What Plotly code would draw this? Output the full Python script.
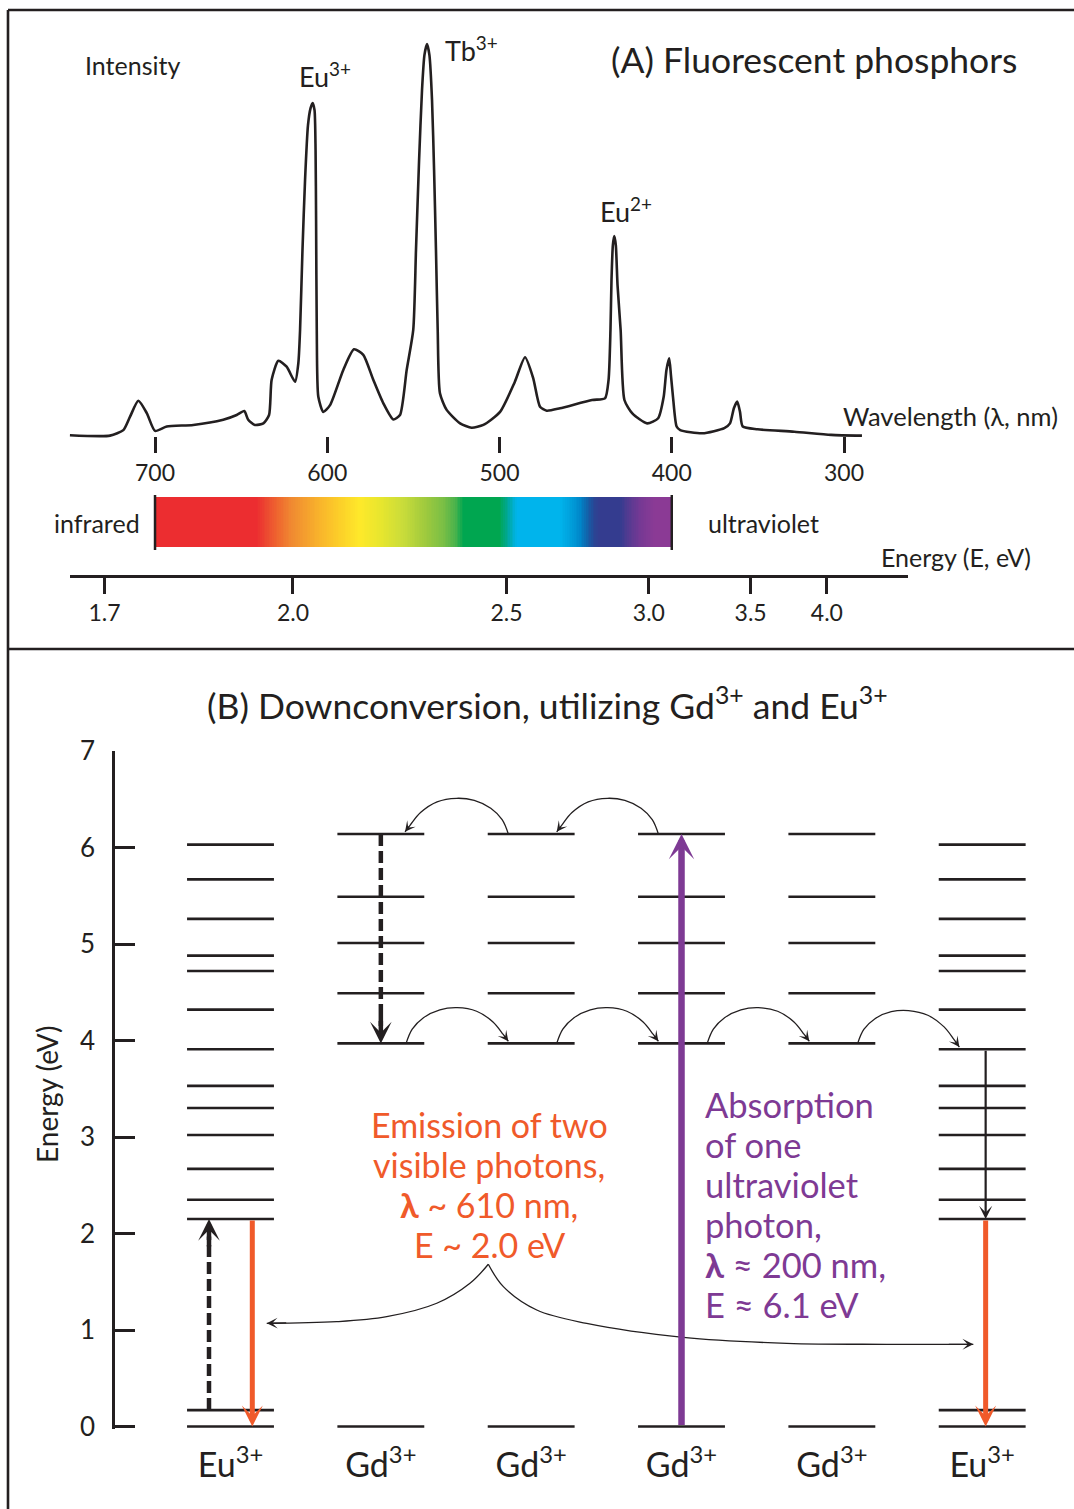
import numpy as np
import plotly.graph_objects as go

INK = "#231F20"
ORANGE = "#F05A2A"
PURPLE = "#7E3A94"
FONT = "Lato"
W, H = 1074, 1509

# ---------------- Panel A: emission spectrum of fluorescent phosphors ----------------
wavelength_nm = [749.4, 726.1, 718.4, 714.5, 709.7, 704.8, 700.0, 693.2, 677.8, 660.4,
                 652.6, 648.2, 645.9, 642.0, 637.1, 633.8, 632.3, 628.4, 623.6, 618.7,
                 616.8, 615.8, 614.4, 612.9, 611.2, 609.7, 608.5, 607.4, 606.8, 606.5,
                 606.1, 605.2, 602.3, 598.4, 590.7, 584.5, 579.1, 573.3, 567.5, 561.7,
                 557.8, 553.9, 550.1, 548.5, 546.7, 545.0, 543.6, 542.1, 540.7, 539.2,
                 538.0, 536.9, 535.9, 534.6, 530.7, 522.9, 516.2, 509.4, 499.7, 491.2,
                 485.2, 480.5, 476.5, 472.6, 464.9, 446.3, 438.8, 436.7, 435.6, 435.0,
                 434.2, 433.4, 432.5, 431.5, 429.7, 427.5, 422.9, 414.3, 407.9, 404.7,
                 403.1, 401.5, 400.5, 399.3, 397.2, 395.1, 382.2, 369.5, 366.2, 363.9,
                 362.0, 360.4, 358.8, 350.2, 328.9, 307.5, 289.6]
intensity = [1.2, 1.1, 2.5, 5.9, 9.9, 6.8, 2.3, 3.4, 3.8, 5.1,
             6.3, 7.3, 5.1, 3.8, 4.2, 6.3, 15.2, 20.0, 18.5, 14.7,
             19.4, 27.8, 48.0, 65.7, 79.5, 83.8, 85.1, 83.3, 73.2, 55.6,
             27.8, 10.9, 7.1, 8.8, 17.7, 22.9, 21.5, 15.2, 9.3, 5.2,
             6.3, 17.7, 27.8, 48.0, 70.7, 88.4, 97.2, 100.0, 97.2, 85.9,
             68.2, 48.0, 27.8, 11.8, 7.6, 4.2, 3.1, 3.8, 7.1, 14.6,
             20.9, 15.7, 8.4, 7.4, 8.0, 10.1, 10.5, 15.2, 27.8, 40.4,
             49.2, 51.5, 49.2, 39.1, 27.8, 10.1, 6.7, 4.2, 5.5, 10.9,
             17.7, 20.6, 16.4, 10.9, 3.4, 2.5, 1.7, 3.0, 4.2, 8.1,
             9.7, 7.1, 3.4, 2.7, 2.1, 1.3, 1.1]
wavelength_ticks = [700, 600, 500, 400, 300]
energy_ticks_eV = [1.7, 2.0, 2.5, 3.0, 3.5, 4.0]
HC_EV_NM = 1239.84

visible_nm = [400, 700]
spec_nm = [400, 410, 419, 425, 430, 442, 445, 449, 453, 459, 465, 490, 495, 500,
           521, 526, 533, 542, 556, 569, 581, 593, 604, 620, 628, 635, 641, 700]
spec_colors = ["#8B3A95", "#8B3A95", "#743994", "#553A91", "#343C8F", "#343C8F", "#2A4594",
               "#1360A8", "#0085C8", "#00A0DC", "#00B4EC", "#00B4EC", "#00A8A0", "#00A650",
               "#00A650", "#4DB34B", "#7BBF45", "#9BC83E", "#C9DC3A", "#E7E62E", "#FEE92A",
               "#FCCF29", "#F9B52B", "#F08C31", "#EF6A2F", "#EC4A30", "#EC2D30", "#EC2D30"]

# ---------------- Panel B: downconversion energy-level diagram ----------------
columns = ["Eu", "Gd", "Gd", "Gd", "Gd", "Eu"]
column_labels = [c + "<sup>3+</sup>" for c in columns]
eu_levels_eV = [0.0, 0.17, 2.15, 2.35, 2.67, 3.02, 3.30, 3.53, 3.91, 4.32, 4.72, 4.88,
                5.26, 5.67, 6.03]
gd_levels_eV = [0.0, 3.97, 4.49, 5.01, 5.49, 6.14]
energy_axis_ticks = [0, 1, 2, 3, 4, 5, 6, 7]

# energy-transfer hops between neighbouring ions: (x start, x end, E start, E end)
transfers = [(1.848, 1.161, 6.14, 6.14), (2.846, 2.170, 6.14, 6.14),
             (1.168, 1.848, 3.97, 3.97), (2.170, 2.846, 3.97, 3.97),
             (3.171, 3.850, 3.97, 3.97), (4.172, 4.848, 3.97, 3.91)]
hop_t = [0, 0.06, 0.17, 0.33, 0.5, 0.69, 0.85, 0.95, 1.0]
hop_h = [0, 0.40, 0.72, 0.94, 1.0, 0.90, 0.60, 0.25, 0.06]
HOP_HEIGHT = 0.37

# pointer curves from the emission label to the two Eu emissions
pointer_left_x = [1.715, 1.593, 1.372, 1.039, 0.706, 0.241]
pointer_left_E = [1.681, 1.484, 1.277, 1.138, 1.086, 1.069]
pointer_right_x = [1.715, 1.815, 2.037, 2.369, 3.012, 3.700, 4.365, 4.941]
pointer_right_E = [1.681, 1.449, 1.207, 1.069, 0.924, 0.862, 0.852, 0.852]

emission_lines = ["Emission of two", "visible photons,", "<b>λ</b> ~ 610 nm,", "E ~ 2.0 eV"]
absorption_lines = ["Absorption", "of one", "ultraviolet", "photon,",
                    "<b>λ</b> ≈ 200 nm,", "E ≈ 6.1 eV"]

LEVEL_HALF = 0.289
E_PAD = 0.03  # small headroom below 0 eV so the ground-state lines are not clipped


def pxx(x):
    return x / W


def pxy(y):
    return 1 - y / H


fig = go.Figure()
annotations = []

# spectrum
fig.add_trace(go.Scatter(x=wavelength_nm, y=intensity, mode="lines", xaxis="x", yaxis="y",
                         line=dict(color=INK, width=2.6, shape="spline", smoothing=0.6),
                         hoverinfo="skip", showlegend=False))

# visible colour bar
edges = np.linspace(visible_nm[0], visible_nm[1], 301)
mids = (edges[:-1] + edges[1:]) / 2
cscale = [[(n - visible_nm[0]) / (visible_nm[1] - visible_nm[0]), c]
          for n, c in zip(spec_nm, spec_colors)]
fig.add_trace(go.Heatmap(x=edges, y=[28, 78], z=[mids], colorscale=cscale,
                         zmin=visible_nm[0], zmax=visible_nm[1], showscale=False,
                         xaxis="x3", yaxis="y3", hoverinfo="skip"))
fig.add_trace(go.Scatter(x=[visible_nm[1], visible_nm[1], None, visible_nm[0], visible_nm[0]],
                         y=[25, 80, None, 25, 80], mode="lines", xaxis="x3", yaxis="y3",
                         line=dict(color=INK, width=2.5), hoverinfo="skip", showlegend=False))

# energy levels
lx, ly = [], []
for i, ion in enumerate(columns):
    for E in (eu_levels_eV if ion == "Eu" else gd_levels_eV):
        lx += [i - LEVEL_HALF, i + LEVEL_HALF, None]
        ly += [E, E, None]
fig.add_trace(go.Scatter(x=lx, y=ly, mode="lines", xaxis="x2", yaxis="y2",
                         line=dict(color=INK, width=2.6), hoverinfo="skip", showlegend=False))


def arrow(x0, y0, x1, y1, color, width, size):
    annotations.append(dict(x=x1, y=y1, ax=x0, ay=y0, xref="x2", yref="y2", axref="x2",
                            ayref="y2", showarrow=True, arrowhead=3, arrowsize=size,
                            arrowwidth=width, arrowcolor=color, text="", standoff=0,
                            startstandoff=0))


def dashed_arrow(x, E0, E1):
    back = 0.3 if E1 > E0 else -0.3
    fig.add_trace(go.Scatter(x=[x, x], y=[E0, E1 - back * 0.6], mode="lines", xaxis="x2",
                             yaxis="y2", line=dict(color=INK, width=4.5, dash="12px,5px"),
                             hoverinfo="skip", showlegend=False))
    arrow(x, E1 - back, x, E1, INK, 4.5, 0.8)


# Gd relaxation (dashed), Eu feeding (dashed)
dashed_arrow(1.0, 6.14, 3.97)
dashed_arrow(-0.143, 0.17, 2.15)
# absorption of UV photon
arrow(3.0, 0.0, 3.0, 6.14, PURPLE, 6.5, 0.65)
# Eu emissions
arrow(0.145, 2.15, 0.145, 0.0, ORANGE, 5, 0.7)
arrow(5.023, 2.15, 5.023, 0.0, ORANGE, 5, 0.7)
# Eu internal relaxation
arrow(5.023, 3.91, 5.023, 2.15, INK, 2.2, 1.0)

# energy-transfer hops
for xs, xe, Es, Ee in transfers:
    hx = [xs + (xe - xs) * t for t in hop_t]
    hy = [Es + (Ee - Es) * t + HOP_HEIGHT * h for t, h in zip(hop_t, hop_h)]
    fig.add_trace(go.Scatter(x=hx, y=hy, mode="lines", xaxis="x2", yaxis="y2",
                             line=dict(color=INK, width=1.3, shape="spline"),
                             hoverinfo="skip", showlegend=False))
    arrow(hx[-2], hy[-2], hx[-1], hy[-1], INK, 1.3, 1.35)

# pointers from emission label
for px_, pe_ in ((pointer_left_x, pointer_left_E), (pointer_right_x, pointer_right_E)):
    fig.add_trace(go.Scatter(x=px_, y=pe_, mode="lines", xaxis="x2", yaxis="y2",
                             line=dict(color=INK, width=1.3, shape="spline"),
                             hoverinfo="skip", showlegend=False))
    arrow(px_[-2] + (px_[-1] - px_[-2]) * 0.7, pe_[-2] + (pe_[-1] - pe_[-2]) * 0.7,
          px_[-1], pe_[-1], INK, 1.3, 1.4)


def text(x, y, s, size, color=INK, xanchor="left", yanchor="middle", angle=0):
    annotations.append(dict(x=pxx(x), y=pxy(y), xref="paper", yref="paper", text=s,
                            showarrow=False, xanchor=xanchor, yanchor=yanchor,
                            textangle=angle,
                            font=dict(family=FONT, size=size, color=color)))


# Panel A texts
text(83, 65, "Intensity", 25)
text(609, 60, "(A) Fluorescent phosphors", 35.5)
text(297, 75, "Eu<sup>3+</sup>", 27)
text(443, 49, "Tb<sup>3+</sup>", 27)
text(598, 210, "Eu<sup>2+</sup>", 27)
text(841, 416, "Wavelength (λ, nm)", 25.5)
text(142, 523, "infrared", 25, xanchor="right")
text(706, 523, "ultraviolet", 25)
text(879, 557, "Energy (E, eV)", 25)

# Panel B texts
text(547, 703, "(B) Downconversion, utilizing Gd<sup>3+</sup> and Eu<sup>3+</sup>", 35.5,
     xanchor="center")
text(47, 1095, "Energy (eV)", 28, xanchor="center", angle=-90)
for k, s in enumerate(emission_lines):
    text(489, 1124 + 40 * k, s, 34, ORANGE, xanchor="center")
for k, s in enumerate(absorption_lines):
    text(703, 1104 + 40 * k, s, 34.5, PURPLE)

frame = dict(type="line", xref="paper", yref="paper", line=dict(color=INK, width=2.6))
shapes = [dict(frame, x0=pxx(8), x1=pxx(8), y0=pxy(10), y1=0),
          dict(frame, x0=pxx(8), x1=1, y0=pxy(10), y1=pxy(10)),
          dict(frame, x0=pxx(8), x1=1, y0=pxy(649), y1=pxy(649))]

E_PX = (1426.5 - 751) / 7  # pixels per eV on the panel-B axis
axis_font = dict(family=FONT, size=23, color=INK)
common = dict(showgrid=False, zeroline=False, automargin=False, fixedrange=True)
fig.update_layout(
    template="none",
    width=W, height=H, autosize=False, margin=dict(l=0, r=0, t=0, b=0, pad=0),
    paper_bgcolor="white", plot_bgcolor="rgba(0,0,0,0)", showlegend=False,
    font=dict(family=FONT, color=INK),
    xaxis=dict(common, domain=[0, 1], range=[790, 166.5], anchor="free", position=pxy(436),
               showline=False, ticks="outside",
               ticklen=16, tickwidth=2.5, tickcolor=INK, tickvals=wavelength_ticks,
               tickfont=axis_font),
    yaxis=dict(common, domain=[pxy(470), pxy(40)], range=[-7.576, 101.01], anchor="free",
               position=0, visible=False),
    xaxis2=dict(common, domain=[0, 1], range=[-1.5332, 5.6107], anchor="y2",
                showline=False, ticks="", tickvals=list(range(len(columns))),
                ticktext=column_labels, tickfont=dict(family=FONT, size=34, color=INK),
                ticklabelstandoff=13),
    yaxis2=dict(common, domain=[pxy(1426.5 + E_PAD * E_PX), pxy(751)], range=[-E_PAD, 7],
                anchor="free", position=pxx(113), showline=True,
                linewidth=2.5, linecolor=INK, ticks="inside", ticklen=20, tickwidth=2.5,
                tickcolor=INK, tickvals=energy_axis_ticks,
                tickfont=dict(family=FONT, size=26, color=INK), ticklabelstandoff=12),
    xaxis3=dict(common, domain=[pxx(70), pxx(908)], range=[749.36, 262.86], anchor="y3",
                showline=True, linewidth=2.5,
                linecolor=INK, ticks="outside", ticklen=16, tickwidth=2.5, tickcolor=INK,
                tickvals=[HC_EV_NM / e for e in energy_ticks_eV],
                ticktext=[f"{e:.1f}" for e in energy_ticks_eV], tickfont=axis_font),
    yaxis3=dict(common, domain=[pxy(575), pxy(490)], range=[0, 85], anchor="x3",
                visible=False),
    annotations=annotations, shapes=shapes,
)

fig.write_html("out.html", config={"displayModeBar": False},
               post_script="document.body.style.margin='0';"
                           "document.body.style.overflow='hidden';")
